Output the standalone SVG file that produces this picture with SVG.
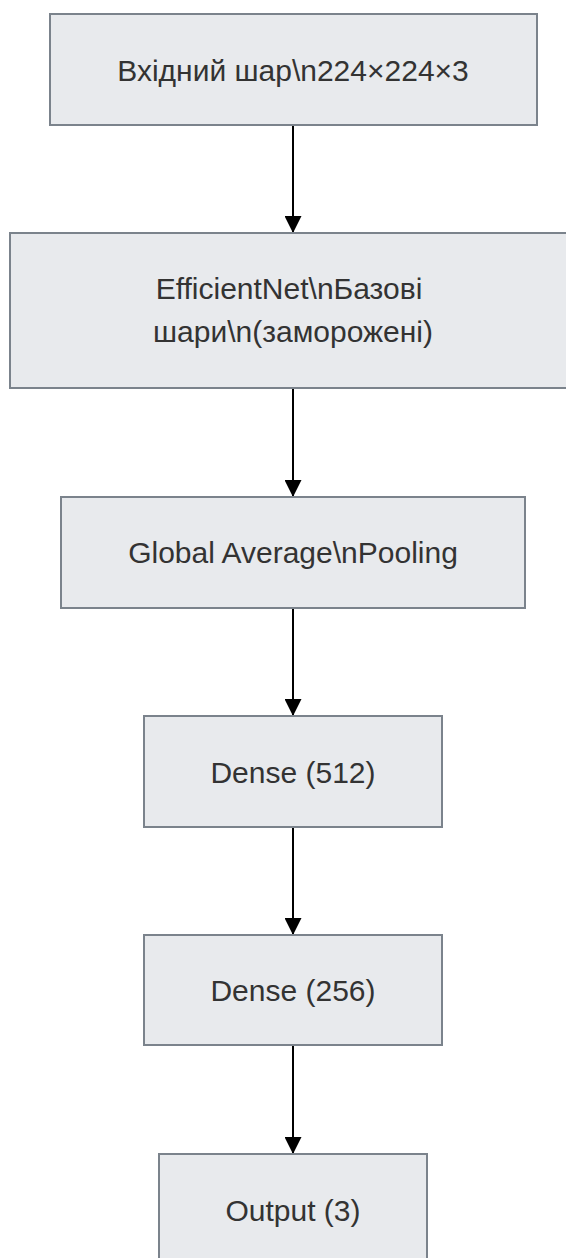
<svg xmlns="http://www.w3.org/2000/svg" width="566" height="1258" viewBox="0 0 566 1258">
<defs>
<style>
.box{fill:#e8eaed;stroke:#7b838c;stroke-width:2}
.lbl{font-family:"Liberation Sans",Arial,sans-serif;font-size:30px;fill:#333333;text-anchor:middle;dominant-baseline:central}
.edge{stroke:#000;stroke-width:2;fill:none;marker-end:url(#arr)}
</style>
<marker id="arr" viewBox="0 0 10 10" refX="10" refY="5" markerUnits="userSpaceOnUse" markerWidth="18" markerHeight="17" orient="auto">
<path d="M0,0 L10,5 L0,10 z" fill="#000"/>
</marker>
</defs>
<rect width="566" height="1258" fill="#ffffff"/>
<g id="connectors">
<line class="edge" x1="293" y1="125" x2="293" y2="233"/>
<line class="edge" x1="293" y1="388" x2="293" y2="497"/>
<line class="edge" x1="293" y1="608" x2="293" y2="716"/>
<line class="edge" x1="293" y1="827" x2="293" y2="935"/>
<line class="edge" x1="293" y1="1045" x2="293" y2="1154"/>
</g>
<g id="input">
<rect class="box" x="50" y="14" width="487" height="111"/>
<text class="lbl" x="293" y="70">Вхідний шар\n224×224×3</text>
</g>
<g id="efficientnet">
<rect class="box" x="10" y="233" width="566" height="155"/>
<text class="lbl" x="289" y="288">EfficientNet\nБазові</text>
<text class="lbl" x="293" y="331">шари\n(заморожені)</text>
</g>
<g id="gap">
<rect class="box" x="61" y="497" width="464" height="111"/>
<text class="lbl" x="293" y="552">Global Average\nPooling</text>
</g>
<g id="dense512">
<rect class="box" x="144" y="716" width="298" height="111"/>
<text class="lbl" x="293" y="772">Dense (512)</text>
</g>
<g id="dense256">
<rect class="box" x="144" y="935" width="298" height="110"/>
<text class="lbl" x="293" y="990">Dense (256)</text>
</g>
<g id="output">
<rect class="box" x="159" y="1154" width="268" height="111"/>
<text class="lbl" x="293" y="1210">Output (3)</text>
</g>
</svg>
